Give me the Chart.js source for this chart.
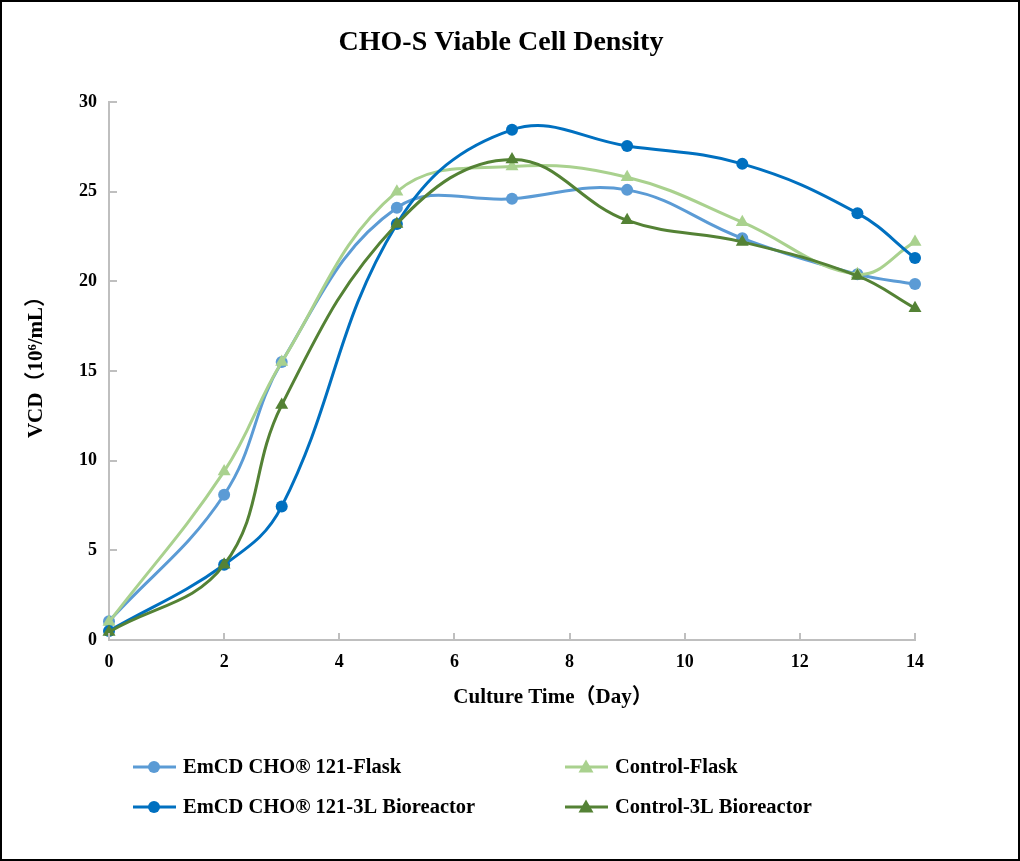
<!DOCTYPE html>
<html>
<head>
<meta charset="utf-8">
<title>CHO-S Viable Cell Density</title>
<script src="https://cdn.jsdelivr.net/npm/chart.js@4.4.0/dist/chart.umd.min.js"></script>
<style>
  html, body { margin: 0; padding: 0; background: #fff; }
  canvas { display: block; }
</style>
</head>
<body>
<canvas id="vcdChart" width="1020" height="861"></canvas>
<script>
// culture days and VCD values (10^6/mL)
const days = [0, 2, 3, 5, 7, 9, 11, 13, 14];
const emcdFlask = [1.05, 8.1, 15.5, 24.1, 24.6, 25.1, 22.4, 20.4, 19.85];
const controlFlask = [1.0, 9.4, 15.5, 25.0, 26.4, 25.8, 23.3, 20.4, 22.2];
const emcd3L = [0.5, 4.2, 7.45, 23.2, 28.45, 27.55, 26.55, 23.8, 21.3];
const control3L = [0.45, 4.2, 13.1, 23.2, 26.8, 23.4, 22.2, 20.3, 18.5];

const seriesLabels = ['EmCD CHO® 121-Flask', 'Control-Flask', 'EmCD CHO® 121-3L Bioreactor', 'Control-3L Bioreactor'];
const seriesValues = [emcdFlask, controlFlask, emcd3L, control3L];
const seriesColors = ['#5B9BD5', '#A9D18E', '#0070C0', '#548235'];
const seriesMarkers = ['circle', 'triangle', 'circle', 'triangle'];

const xTitle = 'Culture Time（Day）';
const yTitle = 'VCD（10⁶/mL）';

const serif = '"Liberation Serif", "Times New Roman", "Noto Sans CJK SC", serif';
const axisGray = '#BFBFBF';

// tick marks pointing into the plot, like the Excel original
const innerTicks = {
    id: 'innerTicks',
    afterDatasetsDraw(chart) {
        const { ctx, chartArea, scales } = chart;
        ctx.save();
        ctx.strokeStyle = axisGray;
        ctx.lineWidth = 2;
        ctx.beginPath();
        scales.x.ticks.forEach(t => {
            const px = Math.round(scales.x.getPixelForValue(t.value));
            ctx.moveTo(px, chartArea.bottom);
            ctx.lineTo(px, chartArea.bottom - 7);
        });
        scales.y.ticks.forEach(t => {
            const py = Math.round(scales.y.getPixelForValue(t.value));
            ctx.moveTo(chartArea.left, py);
            ctx.lineTo(chartArea.left + 8, py);
        });
        ctx.stroke();
        ctx.restore();
    }
};

// axis titles sit a bit off-centre in the original, so they are placed by hand
const axisTitles = {
    id: 'axisTitles',
    afterDraw(chart) {
        const { ctx, chartArea } = chart;
        ctx.save();
        ctx.fillStyle = '#000';
        ctx.font = 'bold 21px ' + serif;
        ctx.textAlign = 'center';
        ctx.textBaseline = 'middle';
        ctx.fillText(xTitle, chartArea.left + 444, chartArea.bottom + 58);
        ctx.translate(37, chartArea.top + 260);
        ctx.rotate(-Math.PI / 2);
        ctx.fillText(yTitle, 0, 0);
        ctx.restore();
    }
};

function drawMarker(ctx, style, x, y, color) {
    ctx.fillStyle = color;
    ctx.beginPath();
    if (style === 'circle') {
        ctx.arc(x, y, 6, 0, Math.PI * 2);
    } else {
        ctx.moveTo(x, y - 7.5);
        ctx.lineTo(x + 7.5, y + 5.5);
        ctx.lineTo(x - 7.5, y + 5.5);
        ctx.closePath();
    }
    ctx.fill();
}

// two-column legend under the x axis title
const gridLegend = {
    id: 'gridLegend',
    afterDraw(chart) {
        const { ctx } = chart;
        const colX = [133, 565];
        const rowY = [767, 807];
        ctx.save();
        chart.data.datasets.forEach((ds, i) => {
            const x = colX[i % 2];
            const y = rowY[Math.floor(i / 2)];
            ctx.strokeStyle = ds.borderColor;
            ctx.lineWidth = 3;
            ctx.beginPath();
            ctx.moveTo(x, y);
            ctx.lineTo(x + 43, y);
            ctx.stroke();
            drawMarker(ctx, ds.pointStyle, x + 21, y, ds.borderColor);
            ctx.fillStyle = '#000';
            ctx.font = 'bold 20.5px ' + serif;
            ctx.textBaseline = 'middle';
            ctx.fillText(ds.label, x + 50, y + 1);
        });
        // picture frame
        ctx.strokeStyle = '#000';
        ctx.lineWidth = 2;
        ctx.strokeRect(1, 1, chart.width - 2, chart.height - 2);
        ctx.restore();
    }
};

const datasets = seriesLabels.map((label, i) => ({
    label: label,
    data: days.map((d, k) => ({ x: d, y: seriesValues[i][k] })),
    borderColor: seriesColors[i],
    backgroundColor: seriesColors[i],
    borderWidth: 3,
    pointStyle: seriesMarkers[i],
    pointRadius: seriesMarkers[i] === 'circle' ? 6 : 7.5,
    pointBorderWidth: 0,
    tension: 0.4,
    fill: false,
    clip: false,
    order: seriesLabels.length - i
}));

const tickFont = { family: serif, size: 18, weight: 'bold' };

const ctx = document.getElementById('vcdChart').getContext('2d');
new Chart(ctx, {
    type: 'line',
    data: { datasets: datasets },
    options: {
        responsive: false,
        animation: false,
        devicePixelRatio: 1,
        layout: { padding: { left: 0, right: 18, top: 0, bottom: 141 } },
        plugins: {
            legend: { display: false },
            tooltip: { enabled: false },
            title: {
                display: true,
                text: 'CHO-S Viable Cell Density',
                color: '#000',
                font: { family: serif, size: 28, weight: 'bold', lineHeight: 1.2 },
                padding: { top: 26, bottom: 42.4 }
            }
        },
        scales: {
            x: {
                type: 'linear',
                min: 0,
                max: 14,
                ticks: { stepSize: 2, color: '#000', padding: 12, font: tickFont },
                grid: { display: false, drawTicks: false },
                border: { color: axisGray, width: 2 },
                afterFit(scale) { scale.height = 80; }
            },
            y: {
                min: 0,
                max: 30,
                ticks: { stepSize: 5, color: '#000', padding: 12, font: tickFont },
                grid: { display: false, drawTicks: false },
                border: { color: axisGray, width: 2 },
                afterFit(scale) { scale.width = 109; }
            },
            // empty right-hand axis that only reserves the margin beside the plot
            yRight: {
                position: 'right',
                min: 0,
                max: 30,
                ticks: { display: false },
                grid: { display: false, drawTicks: false },
                border: { display: false },
                afterFit(scale) { scale.width = 87; }
            }
        }
    },
    plugins: [innerTicks, axisTitles, gridLegend]
});
</script>
</body>
</html>
